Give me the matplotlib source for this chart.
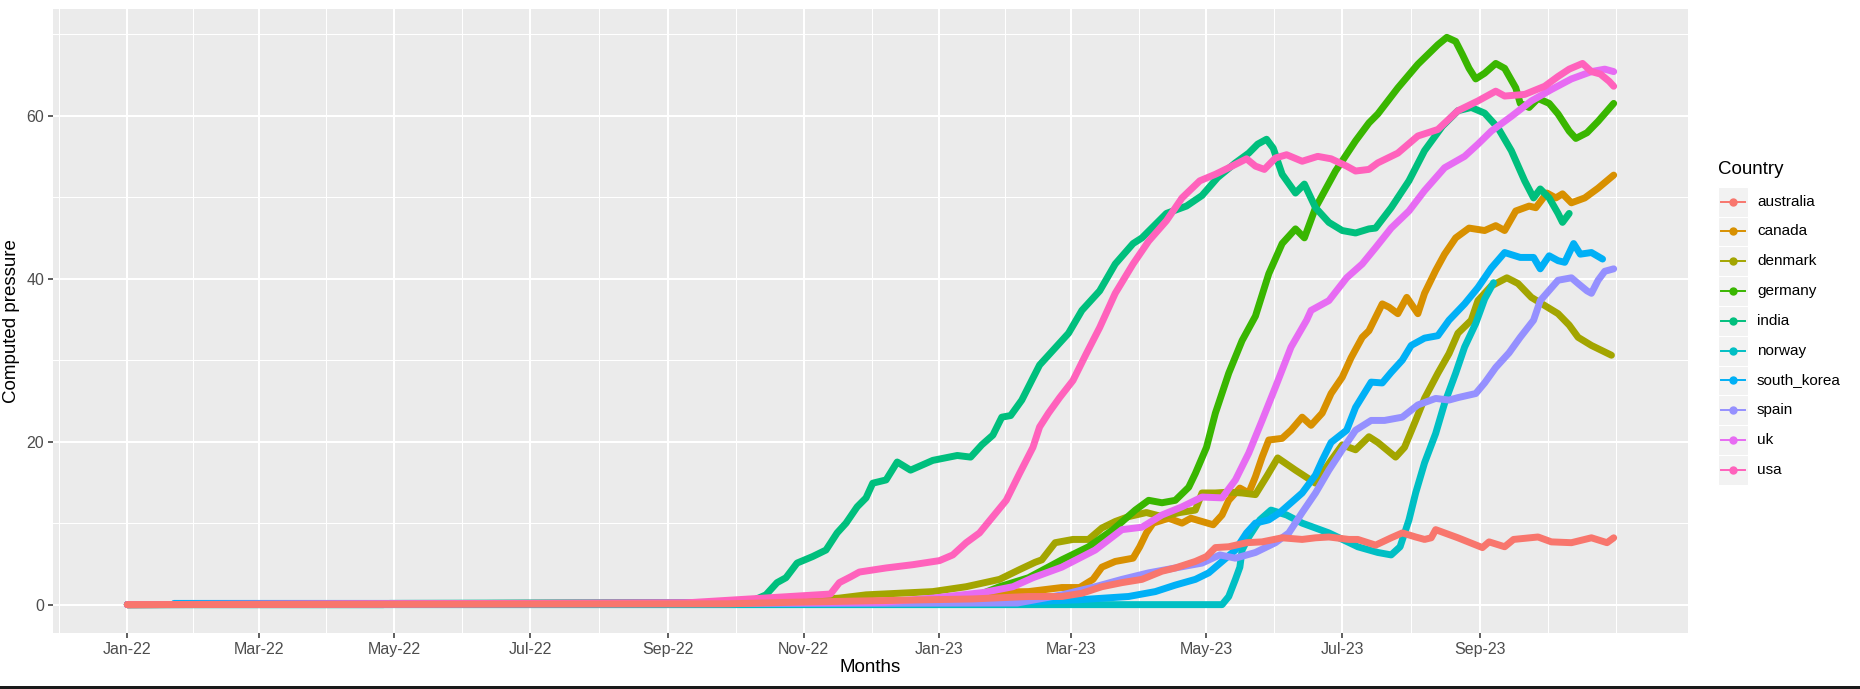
import pandas as pd
import matplotlib
matplotlib.use('Agg')
import matplotlib.pyplot as plt
import matplotlib.dates as mdates
from matplotlib.patches import Rectangle

plt.rcParams['font.family'] = ['Liberation Sans', 'DejaVu Sans']

START = '2022-01-01'

countries = ['australia', 'canada', 'denmark', 'germany', 'india',
             'norway', 'south_korea', 'spain', 'uk', 'usa']
colors = ['#F8766D', '#D89000', '#A3A500', '#39B600', '#00BF7D',
          '#00BFC4', '#00B0F6', '#9590FF', '#E76BF3', '#FF62BC']

# days after START / computed pressure
australia_days = [0, 270, 300, 340, 380, 405, 420, 429, 438, 447, 456, 465, 471, 480, 485,
                  489, 495, 503, 510, 519, 528, 534, 540, 549, 553, 561, 568, 573, 579, 583,
                  586, 588, 598, 609, 612, 619, 623, 634, 640, 649, 658, 665, 668]
australia_vals = [0, 0.1, 0.3, 0.5, 0.7, 1.0, 1.0, 1.4, 2.2, 2.7, 3.1, 4.1, 4.5, 5.3, 5.9,
                  7.0, 7.1, 7.6, 7.7, 8.2, 8.0, 8.2, 8.3, 8.0, 8.0, 7.3, 8.2, 8.8, 8.3, 8.0,
                  8.2, 9.2, 8.2, 7.0, 7.7, 7.1, 8.0, 8.3, 7.7, 7.6, 8.2, 7.6, 8.2]

canada_days = [0, 384, 387, 405, 420, 428, 434, 438, 444, 452, 455, 458, 461, 468, 474, 478,
               483, 488, 492, 495, 500, 504, 507, 510, 513, 519, 523, 528, 532, 537, 541, 546,
               550, 555, 558, 564, 567, 571, 575, 580, 583, 588, 592, 597, 603, 610, 615, 619,
               624, 630, 633, 638, 642, 645, 649, 655, 661, 668]
canada_vals = [0, 0.2, 1.5, 1.6, 2.1, 2.1, 3.1, 4.6, 5.3, 5.7, 7.1, 8.8, 10.0, 10.6, 10.0, 10.6,
               10.2, 9.8, 11.0, 12.8, 14.3, 13.7, 15.7, 18.1, 20.2, 20.4, 21.4, 23.0, 22.0, 23.5,
               25.9, 27.9, 30.3, 32.8, 33.6, 36.9, 36.5, 35.7, 37.7, 35.7, 38.2, 41.0, 43.0, 45.0,
               46.2, 45.9, 46.5, 45.9, 48.3, 48.9, 48.7, 50.5, 49.9, 50.4, 49.3, 49.9, 51.1, 52.7]

denmark_days = [0, 290, 320, 332, 362, 377, 392, 401, 408, 411, 417, 425, 432, 438, 444, 450,
                458, 465, 473, 480, 483, 489, 495, 501, 507, 512, 517, 525, 534, 537, 541, 546,
                552, 558, 562, 570, 574, 579, 583, 589, 594, 598, 604, 607, 613, 620, 625, 631,
                637, 643, 648, 652, 658, 667]
denmark_vals = [0, 0.2, 0.8, 1.2, 1.6, 2.2, 3.1, 4.3, 5.2, 5.5, 7.6, 8.0, 8.0, 9.4, 10.2, 10.8,
                11.3, 10.8, 11.3, 11.6, 13.7, 13.7, 13.8, 13.7, 13.5, 15.7, 18.0, 16.5, 14.9, 16.1,
                17.7, 19.6, 19.0, 20.6, 19.9, 18.1, 19.3, 22.6, 25.3, 28.4, 30.8, 33.3, 34.9, 37.3,
                39.1, 40.1, 39.4, 37.7, 36.7, 35.7, 34.3, 32.8, 31.8, 30.6]

germany_days = [0, 340, 377, 392, 405, 420, 432, 443, 453, 459, 465, 471, 477, 480, 485, 489,
                495, 501, 507, 513, 519, 525, 529, 534, 543, 552, 558, 562, 571, 580, 589, 593,
                597, 600, 603, 606, 610, 615, 619, 624, 626, 630, 634, 639, 643, 648, 651, 656,
                661, 668]
germany_vals = [0, 0.3, 0.6, 2.2, 3.3, 5.5, 7.1, 9.2, 11.6, 12.8, 12.5, 12.8, 14.4, 16.1, 19.3,
                23.5, 28.4, 32.4, 35.4, 40.6, 44.3, 46.1, 45.0, 48.7, 53.2, 56.9, 59.1, 60.2, 63.4,
                66.3, 68.7, 69.6, 69.1, 67.5, 65.8, 64.5, 65.2, 66.4, 65.8, 63.4, 61.5, 61.0, 62.1,
                61.5, 60.2, 58.1, 57.2, 57.9, 59.3, 61.5]

india_days = [0, 115, 118, 270, 282, 287, 292, 296, 301, 308, 314, 319, 323, 328, 332, 335,
              341, 346, 352, 362, 373, 379, 384, 389, 393, 397, 402, 407, 410, 416, 423, 429,
              437, 444, 452, 456, 467, 476, 483, 490, 498, 504, 508, 512, 515, 519, 525, 529,
              534, 540, 546, 552, 558, 561, 568, 576, 583, 591, 598, 604, 610, 616, 622, 628,
              632, 635, 639, 643, 645, 648]
india_vals = [0, 0, 0.15, 0.25, 0.6, 1.2, 2.7, 3.3, 5.1, 5.9, 6.7, 8.8, 10.0, 12.0, 13.1, 14.9,
              15.3, 17.5, 16.5, 17.7, 18.3, 18.1, 19.6, 20.8, 23.0, 23.2, 25.1, 27.8, 29.4, 31.2,
              33.3, 36.1, 38.5, 41.8, 44.3, 45.0, 48.0, 48.9, 50.2, 52.4, 54.2, 55.4, 56.5, 57.1,
              56.0, 52.8, 50.5, 51.6, 48.7, 46.9, 45.9, 45.6, 46.1, 46.2, 48.7, 52.0, 55.7, 58.7,
              60.6, 61.0, 60.3, 58.5, 55.7, 52.0, 49.9, 51.0, 49.9, 48.0, 46.9, 48.0]

norway_days = [0, 492, 495, 498, 500, 501, 504, 509, 514, 521, 528, 540, 553, 562, 568, 572,
               576, 579, 583, 588, 592, 597, 601, 606, 610, 614]
norway_vals = [0, 0, 1.0, 3.1, 4.6, 6.7, 8.3, 10.4, 11.6, 11.0, 10.0, 8.8, 7.1, 6.4, 6.1, 7.1,
               10.4, 13.7, 17.4, 21.0, 24.7, 28.4, 31.6, 34.5, 37.5, 39.5]

south_korea_days = [21, 300, 400, 428, 450, 462, 471, 480, 486, 492, 498, 503, 507, 513, 518,
                    523, 528, 534, 537, 541, 548, 552, 559, 564, 568, 573, 577, 583, 589, 594,
                    601, 607, 613, 619, 626, 632, 635, 639, 643, 646, 650, 653, 658, 663]
south_korea_vals = [0.15, 0.15, 0.3, 0.6, 1.0, 1.6, 2.4, 3.1, 3.9, 5.3, 6.7, 8.8, 10.0, 10.4, 11.3,
                    12.5, 13.7, 15.9, 17.7, 19.9, 21.4, 24.2, 27.3, 27.2, 28.5, 30.0, 31.8, 32.7,
                    33.0, 34.9, 36.9, 38.9, 41.3, 43.2, 42.6, 42.6, 41.2, 42.8, 42.2, 42.0, 44.3,
                    43.0, 43.2, 42.4]

spain_days = [0, 400, 420, 435, 447, 459, 471, 483, 491, 498, 507, 516, 522, 528, 534, 540,
              546, 552, 559, 565, 573, 580, 588, 594, 598, 606, 610, 615, 621, 626, 632, 635,
              643, 649, 652, 656, 658, 661, 664, 668]
spain_vals = [0, 0.2, 1.2, 2.2, 3.1, 3.9, 4.5, 5.1, 6.1, 5.7, 6.4, 7.6, 8.8, 11.3, 13.7, 16.5,
              19.0, 21.4, 22.6, 22.6, 23.0, 24.5, 25.3, 25.1, 25.4, 25.9, 27.2, 29.1, 30.9, 32.8,
              34.9, 37.3, 39.8, 40.1, 39.4, 38.5, 38.2, 39.8, 40.9, 41.2]

uk_days = [0, 340, 362, 385, 398, 407, 420, 435, 447, 456, 465, 474, 483, 492, 498, 504, 510,
           516, 523, 530, 532, 540, 548, 555, 561, 568, 576, 583, 592, 601, 607, 613, 622, 631,
           640, 649, 658, 664, 668]
uk_vals = [0, 0.3, 0.8, 1.5, 2.2, 3.3, 4.6, 6.7, 9.2, 9.5, 11.0, 12.0, 13.2, 13.1, 15.3, 18.6,
           22.6, 26.7, 31.6, 34.9, 36.1, 37.3, 40.1, 41.8, 43.8, 46.2, 48.3, 50.8, 53.6, 55.0,
           56.5, 58.1, 59.9, 61.8, 63.2, 64.5, 65.4, 65.7, 65.4]

usa_days = [0, 250, 280, 304, 316, 320, 325, 329, 341, 353, 365, 371, 377, 383, 389, 395, 401,
            407, 410, 414, 419, 425, 431, 437, 444, 452, 459, 467, 474, 482, 489, 495, 503, 507,
            511, 516, 521, 528, 535, 541, 548, 552, 558, 562, 571, 580, 589, 598, 607, 615, 619,
            628, 637, 643, 648, 654, 658, 662, 666, 668]
usa_vals = [0, 0.2, 0.7, 1.1, 1.3, 2.7, 3.4, 4.0, 4.5, 4.9, 5.4, 6.1, 7.6, 8.8, 10.8, 12.8, 16.1,
            19.3, 21.8, 23.5, 25.4, 27.5, 30.8, 34.0, 38.2, 41.8, 44.6, 47.1, 49.9, 52.0, 52.8,
            53.6, 54.7, 53.8, 53.4, 54.8, 55.2, 54.4, 55.0, 54.7, 53.8, 53.2, 53.4, 54.2, 55.4,
            57.5, 58.3, 60.6, 61.8, 63.0, 62.4, 62.6, 63.6, 64.8, 65.7, 66.4, 65.4, 65.1, 64.2,
            63.6]

series_days = [australia_days, canada_days, denmark_days, germany_days, india_days,
               norway_days, south_korea_days, spain_days, uk_days, usa_days]
series_vals = [australia_vals, canada_vals, denmark_vals, germany_vals, india_vals,
               norway_vals, south_korea_vals, spain_vals, uk_vals, usa_vals]

major_dates = pd.date_range('2022-01-01', '2023-09-01', freq='2MS')

W, H = 1860, 689
fig = plt.figure(figsize=(W / 100, H / 100), dpi=100)
ax = fig.add_axes([53 / W, 1 - 633 / H, (1688 - 53) / W, (633 - 9) / H])
ax.set_facecolor('#EBEBEB')
for s in ax.spines.values():
    s.set_visible(False)

start = pd.Timestamp(START)
for i, c in enumerate(countries):
    x = start + pd.to_timedelta(series_days[i], unit='D')
    z = 20 if c == 'australia' else 3 + i * 0.1
    ax.plot(x, series_vals[i], color=colors[i], lw=5,
            solid_capstyle='round', solid_joinstyle='round', zorder=z)

# ggplot-like 5% expansion
d_lo = min(min(d) for d in series_days)
d_hi = max(max(d) for d in series_days)
x_lo = mdates.date2num(start + pd.Timedelta(days=d_lo))
x_hi = mdates.date2num(start + pd.Timedelta(days=d_hi))
pad = 0.05 * (x_hi - x_lo)
ax.set_xlim(x_lo - pad, x_hi + pad)
y_hi = max(max(v) for v in series_vals)
ax.set_ylim(-0.05 * y_hi, 1.05 * y_hi)

# ticks and grid
ext = pd.date_range('2021-11-01', '2023-11-01', freq='2MS')
minor_dates = [a + (b - a) / 2 for a, b in zip(ext[:-1], ext[1:])] + [pd.Timestamp('2023-11-01')]
ax.set_xticks(major_dates)
ax.set_xticklabels([d.strftime('%b-%y') for d in major_dates])
ax.set_xticks(minor_dates, minor=True)
ax.set_yticks([0, 20, 40, 60])
ax.set_yticks([10, 30, 50, 70], minor=True)
ax.tick_params(which='major', length=3.3, width=1.1, color='#333333',
               labelsize=11.5, labelcolor='#4D4D4D', pad=3)
ax.tick_params(which='minor', length=0)
ax.grid(which='major', color='white', lw=1.5)
ax.grid(which='minor', color='white', lw=0.75)
ax.set_axisbelow(True)

# overlay in pixel units for titles and legend
ov = fig.add_axes([0, 0, 1, 1], facecolor='none')
ov.set_xlim(0, W)
ov.set_ylim(H, 0)
ov.axis('off')

ov.text(870, 668, 'Months', fontsize=13.5, ha='center', va='center')
ov.text(12, 321, 'Computed pressure', fontsize=13.5, rotation=90, ha='center', va='center')

ov.text(1718, 169, 'Country', fontsize=13.5, ha='left', va='center')
for i, c in enumerate(countries):
    yc = 201.6 + i * 29.8
    ov.add_patch(Rectangle((1718, yc - 14.9), 30, 29.8, facecolor='#F2F2F2',
                           edgecolor='white', lw=0.8))
    ov.plot([1721, 1745], [yc, yc], color=colors[i], lw=1.4)
    ov.plot([1733], [yc], 'o', color=colors[i], ms=5)
    ov.text(1757, yc, c, fontsize=11, ha='left', va='center')

ov.add_patch(Rectangle((0, 686), W, 3, facecolor='#1a1a1a', edgecolor='none'))

fig.savefig('out.png', dpi=100)
plt.close(fig)
